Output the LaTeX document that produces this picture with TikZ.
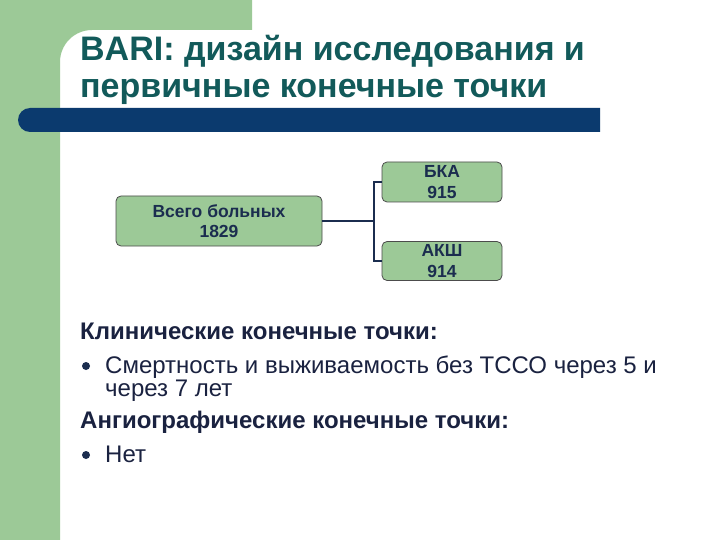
\documentclass[tikz,border=0pt]{standalone}
\usepackage{fontspec}
\setmainfont{Liberation Sans}
\definecolor{sgreen}{HTML}{9CC997}
\definecolor{navybar}{HTML}{0B3A6E}
\definecolor{titlecol}{HTML}{125A5A}
\definecolor{boxtext}{HTML}{1B2D4F}
\definecolor{bodytext}{HTML}{1A2240}
\definecolor{linecol}{HTML}{1B2D4F}
\tikzset{
  x=1pt, y=-1pt,
  greenbox/.style={draw=black!70, line width=0.8pt, fill=sgreen, rounded corners=5pt, inner sep=0pt},
  boxlabel/.style={font=\bfseries\fontsize{17.5}{20.5}\selectfont, text=boxtext, align=center},
  titletext/.style={font=\bfseries\fontsize{34}{37}\selectfont, text=titlecol, anchor=base west, inner sep=0pt},
  headtext/.style={font=\bfseries\fontsize{24}{26}\selectfont, text=bodytext, anchor=base west, inner sep=0pt},
  itemtext/.style={font=\fontsize{24}{26}\selectfont, text=bodytext, anchor=base west, inner sep=0pt},
  conn/.style={draw=linecol, line width=2pt},
  bulletdot/.style={circle, fill=boxtext, inner sep=0pt, minimum size=8pt}
}
\begin{document}
\begin{tikzpicture}
\useasboundingbox (0,0) rectangle (720,540);
\fill[white] (0,0) rectangle (720,540);
% green background shape
\fill[sgreen] (0,0) -- (252,0) -- (252,30) -- (92,30) arc[start angle=270, end angle=180, radius=32] -- (60,540) -- (0,540) -- cycle;
% navy bar
\fill[navybar] (30,108) -- (600,108) -- (600,132) -- (30,132) arc[start angle=90, end angle=270, radius=12] -- cycle;
% title
\node[titletext] (t1) at (80,61) {BARI: дизайн исследования и};
\node[titletext] (t2) at (80,98) {первичные конечные точки};
% boxes
\node[greenbox, minimum width=206pt, minimum height=50pt] (total) at (219,221) {};
\node[boxlabel] (totaltxt) at (219,221) {Всего больных\\1829};
\node[greenbox, minimum width=120pt, minimum height=40pt] (bka) at (442,182) {};
\node[boxlabel] (bkatxt) at (442,182) {БКА\\915};
\node[greenbox, minimum width=120pt, minimum height=39pt] (aksh) at (442,261) {};
\node[boxlabel] (akshtxt) at (442,261) {АКШ\\914};
% connectors
\coordinate (jt) at (374,182);
\coordinate (jm) at (374,221);
\coordinate (jb) at (374,261);
\draw[conn] (total.east) -- (jm);
\draw[conn] (bka.west) -- (jt) -- (jb) -- (aksh.west);
% body text
\node[headtext] (h1) at (80,339) {Клинические конечные точки:};
\node[bulletdot] (b1) at (86,366) {};
\node[itemtext] (i1) at (105,373) {Смертность и выживаемость без ТССО через 5 и};
\node[itemtext] (i1b) at (105,396) {через 7 лет};
\node[headtext] (h2) at (80,428) {Ангиографические конечные точки:};
\node[bulletdot] (b2) at (86,455) {};
\node[itemtext] (i2) at (105,462) {Нет};
\end{tikzpicture}
\end{document}
